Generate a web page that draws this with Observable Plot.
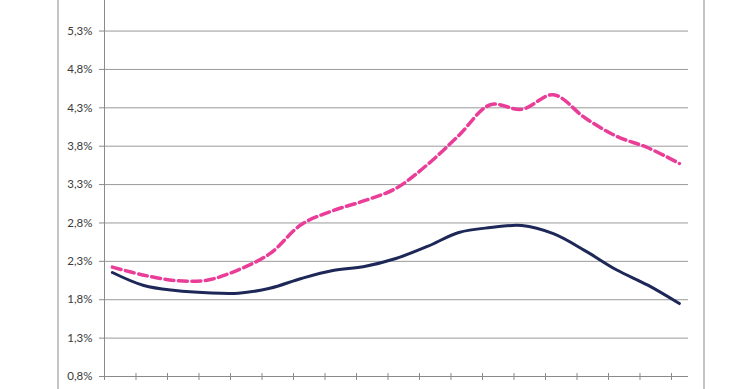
<!DOCTYPE html>
<html>
<head>
<meta charset="utf-8">
<script src="https://cdn.jsdelivr.net/npm/d3@7"></script>
<script src="https://cdn.jsdelivr.net/npm/@observablehq/plot@0.6"></script>
<style>
  html, body { margin: 0; padding: 0; background: #fff; }
  #wrap { position: relative; width: 740px; height: 389px; overflow: hidden; }
  #wrap .frameL { position: absolute; left: 57px; top: 0; width: 0; height: 389px; border-left: 2px solid #c4c4c4; }
  #wrap .frameR { position: absolute; left: 703px; top: 0; width: 0; height: 389px; border-left: 2px solid #c4c4c4; }
  #wrap svg { position: absolute; left: 0; top: 0; }
</style>
</head>
<body>
<div id="wrap"><div class="frameL"></div><div class="frameR"></div></div>
<script>
// Period index (19 periods; labels cut off in the reference)
const periods = [0,1,2,3,4,5,6,7,8,9,10,11,12,13,14,15,16,17,18];
// Solid navy series (%)
const seriesSolid = [2.155,1.985,1.92,1.89,1.885,1.95,2.077,2.18,2.233,2.337,2.494,2.676,2.74,2.767,2.66,2.44,2.19,1.99,1.75];
// Dashed magenta series (%)
const seriesDashed = [2.225,2.12,2.05,2.055,2.19,2.40,2.78,2.96,3.09,3.25,3.56,3.94,4.34,4.28,4.47,4.17,3.93,3.78,3.575];
// Y tick values (%)
const yTicks = [0.8,1.3,1.8,2.3,2.8,3.3,3.8,4.3,4.8,5.3];
// X tick marks sit a quarter period left of each point
const xTicks = periods.map(p => p - 0.25);

const fmt = d => d.toFixed(1).replace(".", ",") + "%";

const solidData = periods.map((p, i) => ({p, v: seriesSolid[i]}));
const dashedData = periods.map((p, i) => ({p, v: seriesDashed[i]}));

const chart = Plot.plot({
  width: 740,
  height: 389,
  marginLeft: 104,
  marginRight: 52,
  marginTop: 0,
  marginBottom: 13,
  style: {fontFamily: "Lato, 'Open Sans', sans-serif", fontSize: "11.5px", color: "#3a3a3a", background: "transparent", overflow: "visible"},
  x: {domain: [-0.25, 18.29], axis: null},
  y: {domain: [0.8, 5.698], axis: null},
  marks: [
    Plot.gridY(yTicks, {stroke: "#9a9a9a", strokeOpacity: 1, strokeWidth: 1}),
    Plot.ruleY([0.8], {stroke: "#8a8a8a", strokeWidth: 1}),
    Plot.ruleX([-0.25], {stroke: "#8a8a8a", strokeWidth: 1}),
    Plot.axisY(yTicks, {tickSize: 5, tickPadding: 7, tickFormat: fmt, stroke: "#8a8a8a", label: null}),
    Plot.axisX(xTicks, {tickSize: 7, dy: -3, tickFormat: () => "", stroke: "#8a8a8a", label: null}),
    Plot.lineY(solidData, {x: "p", y: "v", curve: "catmull-rom", stroke: "#1d2858", strokeWidth: 3}),
    Plot.lineY(dashedData, {x: "p", y: "v", curve: "catmull-rom", stroke: "#ea3d98", strokeWidth: 3.5, strokeDasharray: "9,4.5"})
  ]
});
document.getElementById("wrap").appendChild(chart);
</script>
</body>
</html>
